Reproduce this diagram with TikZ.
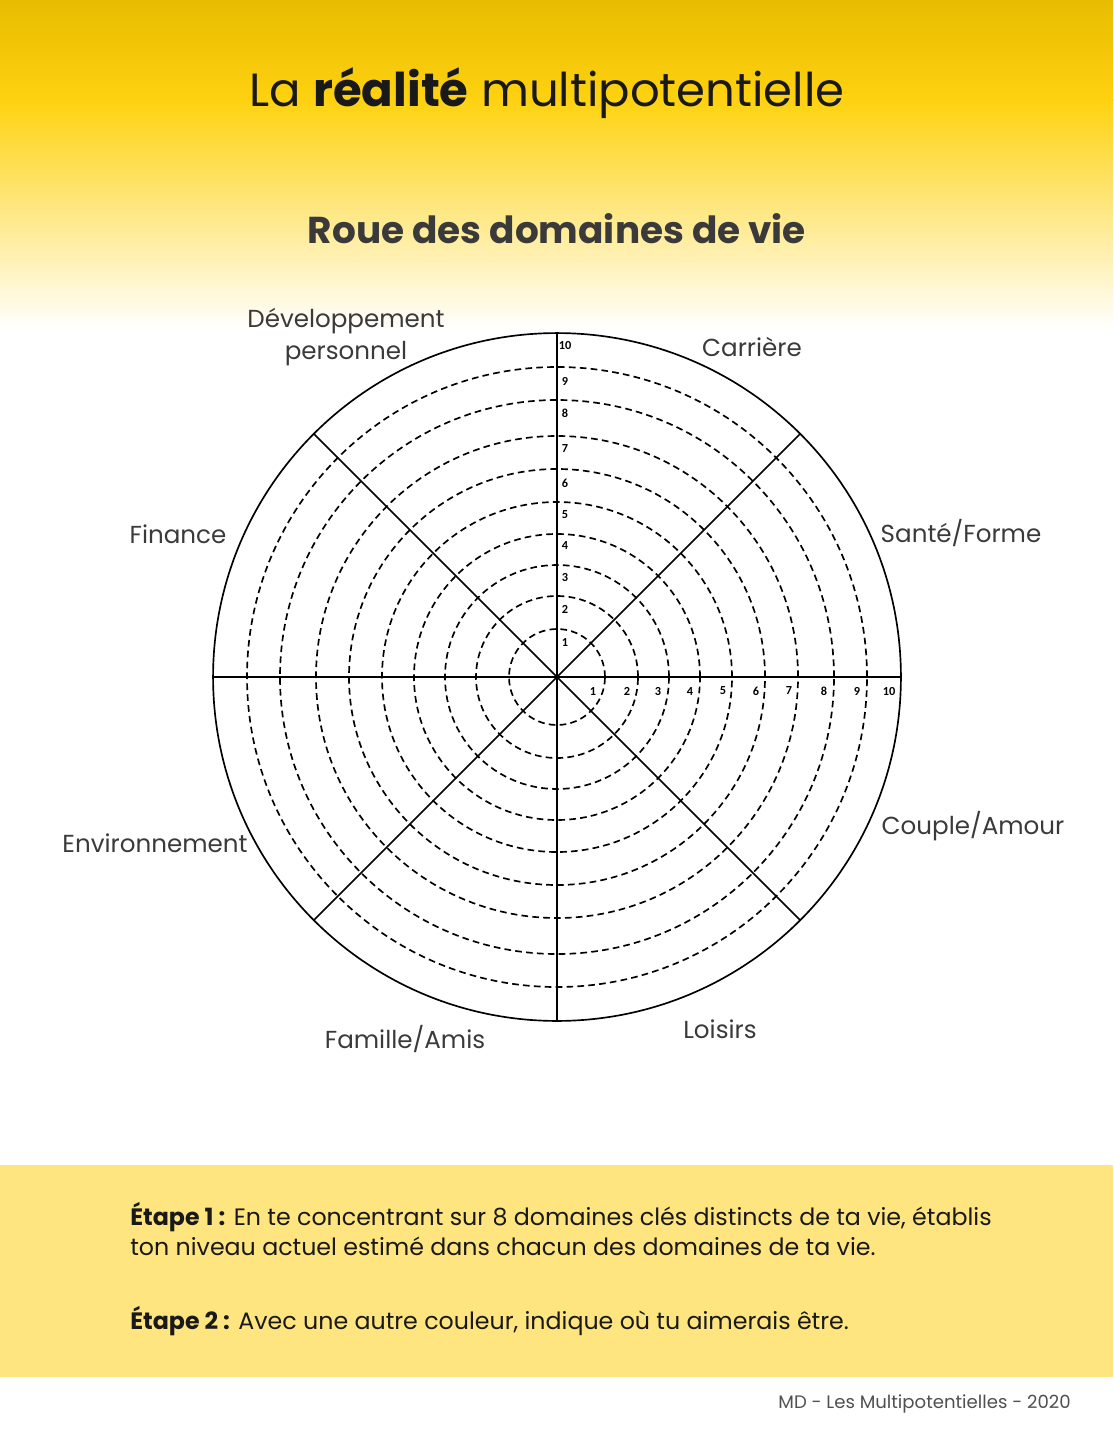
\documentclass[tikz,border=0pt]{standalone}
\usepackage{fontspec}
\setmainfont{Poppins}
\newfontfamily\chiffres{Carlito}
\usetikzlibrary{positioning}

\definecolor{jauneHaut}{RGB}{232,188,0}
\definecolor{jauneVif}{RGB}{254,210,16}
\definecolor{jaunePale}{RGB}{254,229,128}
\definecolor{gris}{RGB}{58,58,58}
\definecolor{grisPied}{RGB}{80,80,80}

\begin{document}
\begin{tikzpicture}[
			x=0.02cm, y=-0.02cm,
			domaine/.style={font=\fontsize{14}{18}\selectfont, text=gris, align=center, inner sep=0pt},
			graduation/.style={font=\chiffres\bfseries\fontsize{7}{8}\selectfont, inner sep=0pt},
			cercle/.style={line width=0.95pt, dash pattern=on 3.8pt off 2.4pt},
			rayon/.style={line width=0.85pt},
			etape/.style={font=\fontsize{13.5}{17}\selectfont, text=black!90, align=left, inner sep=0pt, anchor=base west}
		]
		\useasboundingbox (0,0) rectangle (1113,1440);

		% fond
		\shade[top color=jauneHaut, bottom color=jauneVif] (0,0) rectangle (1113,100);
		\shade[top color=jauneVif, bottom color=white] (0,99.5) rectangle (1113,330);
		\fill[jaunePale] (0,1165) rectangle (1113,1377);

		% titres
		\node[font=\fontsize{26.5}{30}\selectfont, text=black!90, anchor=base, inner sep=0pt] (titre) at (547,106) {La \textbf{réalité} multipotentielle};
		\node[font=\bfseries\fontsize{21.3}{25}\selectfont, text=gris, anchor=base, inner sep=0pt] (soustitre) at (557,243) {Roue des domaines de vie};

		% roue
		\coordinate (c) at (557,677);
		\foreach \r in {48,81,112,143,175,208,241,277,310}
			\draw[cercle] (c) circle[radius=\r*0.02cm];
		\draw[line width=0.95pt] (c) circle[radius=6.88cm];
		\foreach \a/\nom in {0/est,45/ne,90/nord,135/no,180/ouest,225/so,270/sud,315/se}
			\coordinate (\nom) at ([shift={(\a:6.88cm)}]c);
		\draw[rayon] (ouest) -- (est);
		\draw[rayon] (nord) -- (sud);
		\draw[rayon] (no) -- (se);
		\draw[rayon] (so) -- (ne);

		\foreach \n/\px in {1/593,2/627,3/658,4/690,5/723,6/756,7/789,8/824,9/857,10/889}
			\node[graduation] (h\n) at (\px,691) {\n};
		\foreach \n/\py in {1/642,2/609,3/578,4/546,5/515,6/483,7/449,8/413,9/381,10/346}
			\node[graduation] (v\n) at (565,\py) {\n};

		% domaines
		\node[domaine] (devperso) at (346,337) {Développement\\personnel};
		\node[domaine, anchor=base] (carriere) at (752,356) {Carrière};
		\node[domaine, anchor=base] (sante) at (961,542) {Santé/Forme};
		\node[domaine, anchor=base] (finance) at (178,543) {Finance};
		\node[domaine, anchor=base] (environ) at (155,852) {Environnement};
		\node[domaine, anchor=base] (couple) at (973,834) {Couple/Amour};
		\node[domaine, anchor=base] (famille) at (405,1048) {Famille/Amis};
		\node[domaine, anchor=base] (loisirs) at (720,1038) {Loisirs};

		% consignes
		\node[etape] (etape1) at (130,1255) {\textbf{Étape 1 :} En te concentrant sur 8 domaines clés distincts de ta vie, établis\\ton niveau actuel estimé dans chacun des domaines de ta vie.};
		\node[etape] (etape2) at (130,1329) {\textbf{Étape 2 :} Avec une autre couleur, indique où tu aimerais être.};

		\node[font=\fontsize{10.3}{12}\selectfont, text=grisPied, anchor=base east, inner sep=0pt] (pied) at (1071,1408) {MD - Les Multipotentielles - 2020};
	\end{tikzpicture}
\end{document}
